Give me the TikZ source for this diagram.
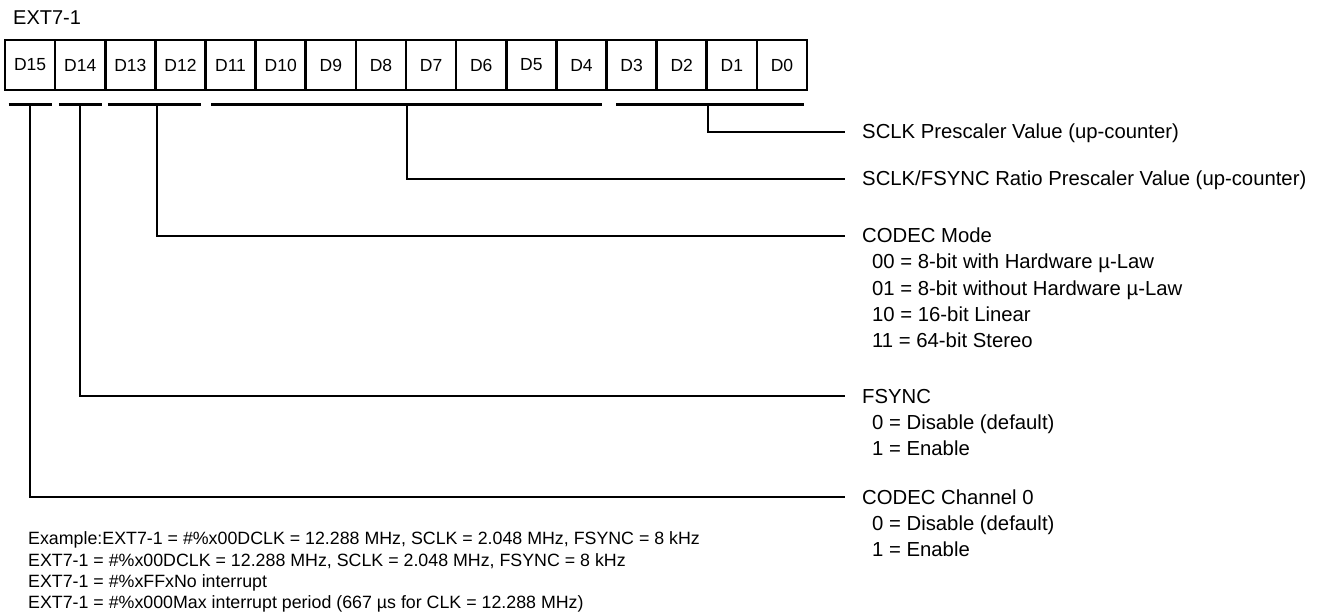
\documentclass[tikz,border=0pt]{standalone}
\usepackage{fontspec}
\setmainfont{Liberation Sans}
\begin{document}
\begin{tikzpicture}[x=1pt,y=-1pt,
  cell/.style={draw,line width=2.7pt,minimum width=50.125pt,minimum height=50pt,inner sep=0pt,font=\fontsize{17.5}{20}\selectfont},
  bar/.style={line width=3pt},
  lead/.style={line width=2pt},
  lbl/.style={anchor=west,inner sep=0pt,text height=14pt,text depth=0pt,font=\fontsize{20.3}{24}\selectfont},
  note/.style={anchor=west,inner sep=0pt,text height=12.5pt,text depth=0pt,font=\fontsize{17.8}{21}\selectfont}]
\useasboundingbox (0,0) rectangle (1317,612);
\node[anchor=west,inner sep=0pt,text height=14pt,text depth=0pt,font=\fontsize{20}{23}\selectfont] (title) at (13,18) {EXT7-1};
\foreach \i in {0,...,15}{
  \pgfmathtruncatemacro\n{15-\i}
  \node[cell] (d\n) at ({5+50.125*(\i+0.5)},65) {D\n};
}
% group bars
\draw[bar] ([xshift=5pt,yshift=-13.5pt]d15.south west) -- ([xshift=-4pt,yshift=-13.5pt]d15.south east);
\draw[bar] ([xshift=5pt,yshift=-13.5pt]d14.south west) -- ([xshift=-5pt,yshift=-13.5pt]d14.south east);
\draw[bar] ([xshift=4pt,yshift=-13.5pt]d13.south west) -- ([xshift=-6pt,yshift=-13.5pt]d12.south east);
\draw[bar] ([xshift=7pt,yshift=-13.5pt]d11.south west) -- ([xshift=-6pt,yshift=-13.5pt]d4.south east);
\draw[bar] ([xshift=11pt,yshift=-13.5pt]d3.south west) -- ([xshift=-4pt,yshift=-13.5pt]d0.south east);
% leader start points
\coordinate (v15) at ([yshift=-13.5pt]d15.south);
\coordinate (v14) at ([yshift=-13.5pt]d14.south);
\coordinate (v12) at ([yshift=-13.5pt]d13.south east);
\coordinate (v7) at ([yshift=-13.5pt]d8.south east);
\coordinate (v1) at ([yshift=-13.5pt]d2.south east);
% right labels
\node[lbl] (sp) at (862,132) {SCLK Prescaler Value (up-counter)};
\node[lbl] (rp) at (862,179) {SCLK/FSYNC Ratio Prescaler Value (up-counter)};
\node[lbl] (cm) at (862,236) {CODEC Mode};
\node[lbl] (cma) at (872,262) {00 = 8-bit with Hardware µ-Law};
\node[lbl] (cmb) at (872,288) {01 = 8-bit without Hardware µ-Law};
\node[lbl] (cmc) at (872,314) {10 = 16-bit Linear};
\node[lbl] (cmd) at (872,340) {11 = 64-bit Stereo};
\node[lbl] (fs) at (862,396) {FSYNC};
\node[lbl] (fsa) at (872,422) {0 = Disable (default)};
\node[lbl] (fsb) at (872,448) {1 = Enable};
\node[lbl] (ch) at (862,497) {CODEC Channel 0};
\node[lbl] (cha) at (872,523) {0 = Disable (default)};
\node[lbl] (chb) at (872,549) {1 = Enable};
% leaders
\draw[lead] (v1) |- ([xshift=-17pt]sp.west);
\draw[lead] (v7) |- ([xshift=-17pt]rp.west);
\draw[lead] (v12) |- ([xshift=-17pt]cm.west);
\draw[lead] (v14) |- ([xshift=-17pt]fs.west);
\draw[lead] (v15) |- ([xshift=-17pt]ch.west);
% notes
\node[note] (n1) at (28,538) {Example:EXT7-1 = \#\%x00DCLK = 12.288 MHz, SCLK = 2.048 MHz, FSYNC = 8 kHz};
\node[note] (n2) at (28,560) {EXT7-1 = \#\%x00DCLK = 12.288 MHz, SCLK = 2.048 MHz, FSYNC = 8 kHz};
\node[note] (n3) at (28,581) {EXT7-1 = \#\%xFFxNo interrupt};
\node[note] (n4) at (28,602) {EXT7-1 = \#\%x000Max interrupt period (667 µs for CLK = 12.288 MHz)};
\end{tikzpicture}
\end{document}
